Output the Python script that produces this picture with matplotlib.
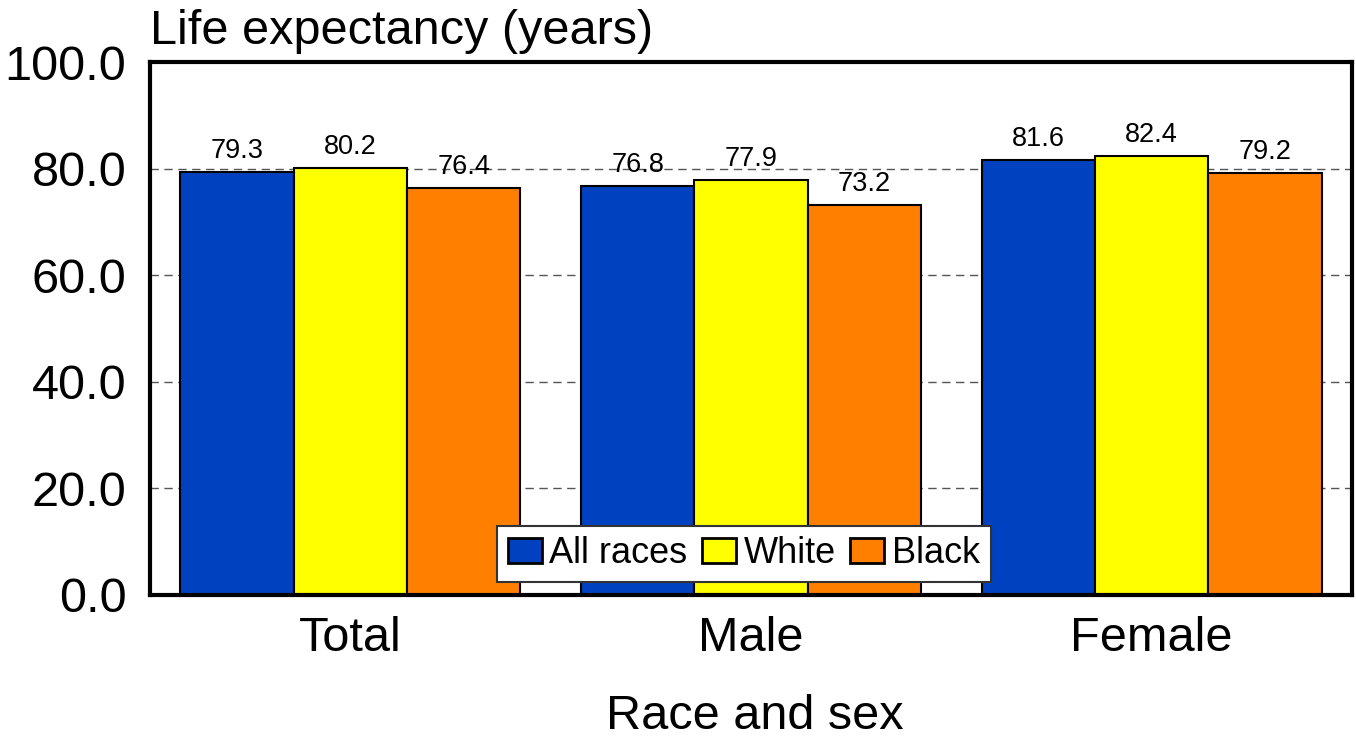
import matplotlib

matplotlib.use("Agg")
import matplotlib.pyplot as plt
import numpy as np

groups = ["Total", "Male", "Female"]
series = ["All races", "White", "Black"]
all_races = [79.3, 76.8, 81.6]
white = [80.2, 77.9, 82.4]
black = [76.4, 73.2, 79.2]
yticks = [0, 20, 40, 60, 80, 100]

colors = ["#0041bf", "#ffff00", "#ff8000"]

plt.rcParams["font.family"] = ["Liberation Sans", "DejaVu Sans"]
fig = plt.figure(figsize=(13.56, 7.41), dpi=100)
ax = fig.add_axes([150 / 1356, 1 - 595 / 741, 1202 / 1356, 533 / 741])

x = np.arange(len(groups))
w = 0.283
for i, (vals, c, name) in enumerate(zip([all_races, white, black], colors, series)):
    bars = ax.bar(x + (i - 1) * w, vals, w, color=c, edgecolor="black", lw=1.5,
                  label=name, zorder=2)
    for b, v in zip(bars, vals):
        ax.annotate(f"{v:.1f}", (b.get_x() + b.get_width() / 2, v),
                    xytext=(0, 10), textcoords="offset points",
                    ha="center", va="baseline", fontsize=19.5, zorder=3)

ax.set_xlim(-0.5, 2.5)
ax.set_ylim(0, 100)
ax.set_yticks(yticks)
ax.set_yticklabels([f"{t:.1f}" for t in yticks])
ax.set_xticks(x)
ax.set_xticklabels(groups)
ax.tick_params(axis="both", length=0, labelsize=35)
ax.tick_params(axis="y", pad=17)
ax.tick_params(axis="x", pad=15)
for t in yticks[1:-1]:
    ax.axhline(t, color="#555555", lw=1, ls=(0, (6, 4)), zorder=1)
for s in ax.spines.values():
    s.set_linewidth(3)
    s.set_color("black")

leg = ax.legend(loc="lower center", bbox_to_anchor=(0.494, 0.024), ncol=3,
                fontsize=26, frameon=True, fancybox=False, borderpad=0.3,
                handlelength=0.95, handleheight=0.7, handletextpad=0.2,
                columnspacing=0.4, borderaxespad=0)
leg.get_frame().set_edgecolor("#333333")
leg.get_frame().set_linewidth(1.5)
leg.get_frame().set_alpha(1)
for h in leg.legend_handles:
    h.set_linewidth(2)

fig.text(150 / 1356, 1 - 44 / 741, "Life expectancy (years)", fontsize=35,
         ha="left", va="baseline")
fig.text(755 / 1356, 1 - 729 / 741, "Race and sex", fontsize=35,
         ha="center", va="baseline")

fig.savefig("out.png", dpi=100)
